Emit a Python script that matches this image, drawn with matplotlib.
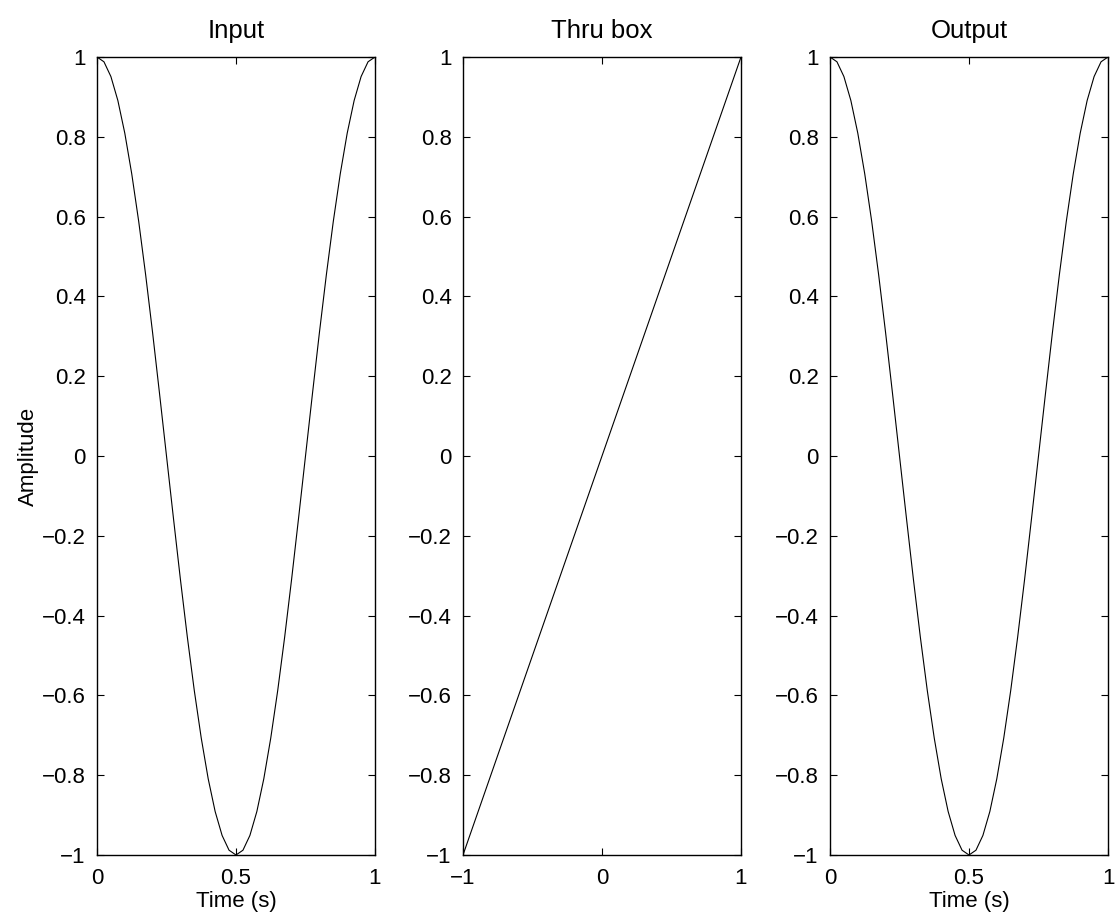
import matplotlib
matplotlib.use("Agg")
import matplotlib.pyplot as plt

plt.rcParams['font.family'] = ['Liberation Sans', 'DejaVu Sans']

# values (one cycle of the input wave)
time_s = [0.0, 0.025, 0.05, 0.075, 0.1, 0.125, 0.15, 0.175, 0.2, 0.225,
          0.25, 0.275, 0.3, 0.325, 0.35, 0.375, 0.4, 0.425, 0.45, 0.475,
          0.5, 0.525, 0.55, 0.575, 0.6, 0.625, 0.65, 0.675, 0.7, 0.725,
          0.75, 0.775, 0.8, 0.825, 0.85, 0.875, 0.9, 0.925, 0.95, 0.975, 1.0]
input_amp = [1.0, 0.988, 0.951, 0.891, 0.809, 0.707, 0.588, 0.454, 0.309, 0.156,
             0.0, -0.156, -0.309, -0.454, -0.588, -0.707, -0.809, -0.891, -0.951, -0.988,
             -1.0, -0.988, -0.951, -0.891, -0.809, -0.707, -0.588, -0.454, -0.309, -0.156,
             0.0, 0.156, 0.309, 0.454, 0.588, 0.707, 0.809, 0.891, 0.951, 0.988, 1.0]
output_amp = list(input_amp)

thru_in = [-1.0, 1.0]
thru_out = [-1.0, 1.0]

y_ticks = [-1, -0.8, -0.6, -0.4, -0.2, 0, 0.2, 0.4, 0.6, 0.8, 1]
y_labels = ['\u22121', '\u22120.8', '\u22120.6', '\u22120.4', '\u22120.2', '0',
            '0.2', '0.4', '0.6', '0.8', '1']
t_ticks = [0, 0.5, 1]
t_labels = ['0', '0.5', '1']
thru_ticks = [-1, 0, 1]
thru_labels = ['\u22121', '0', '1']

fig = plt.figure(figsize=(11.15, 9.19), dpi=100)
lefts = [97 / 1115, 463 / 1115, 830 / 1115]
w = 278 / 1115
b = 64 / 919
h = 798 / 919
axes = [fig.add_axes([l, b, w, h]) for l in lefts]

panels = [
    (time_s, input_amp, 'Input', (0, 1), t_ticks, t_labels, 'Time (s)'),
    (thru_in, thru_out, 'Thru box', (-1, 1), thru_ticks, thru_labels, None),
    (time_s, output_amp, 'Output', (0, 1), t_ticks, t_labels, 'Time (s)'),
]

for ax, (x, y, title, xlim, xt, xl, xlabel) in zip(axes, panels):
    ax.plot(x, y, color='black', linewidth=0.8)
    ax.set_xlim(*xlim)
    ax.set_ylim(-1, 1)
    ax.set_xticks(xt)
    ax.set_xticklabels(xl)
    ax.set_yticks(y_ticks)
    ax.set_yticklabels(y_labels)
    ax.tick_params(direction='in', length=5, width=0.8, top=True, right=True,
                   labelsize=16)
    ax.tick_params(axis='y', pad=8)
    ax.tick_params(axis='x', pad=9)
    for s in ax.spines.values():
        s.set_linewidth(1.0)
    ax.set_title(title, fontsize=18.5, pad=14)
    if xlabel:
        ax.set_xlabel(xlabel, fontsize=16, labelpad=2)

axes[0].set_ylabel('Amplitude', fontsize=16, labelpad=2)

fig.savefig('out.png', dpi=100)
